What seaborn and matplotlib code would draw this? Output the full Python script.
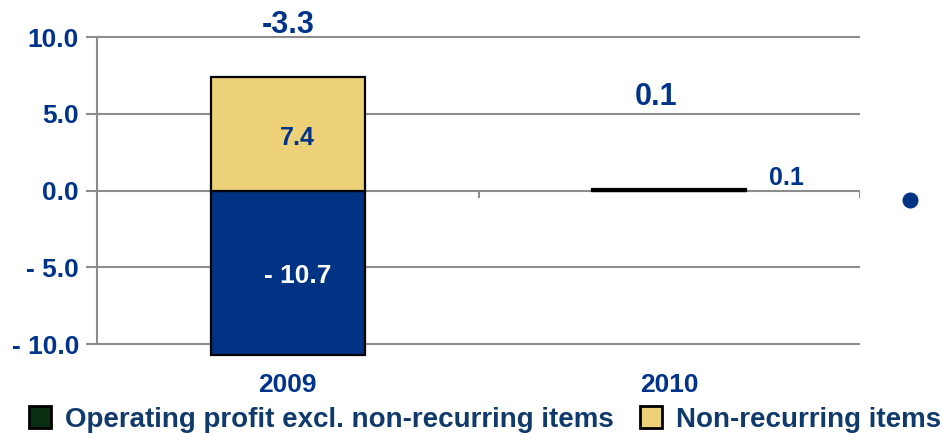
import matplotlib
matplotlib.use("Agg")
import matplotlib.pyplot as plt
import seaborn as sns
import pandas as pd
from matplotlib.patches import Patch

sns.set_theme(style="white")
plt.rcParams['font.family'] = 'Liberation Sans'
plt.rcParams['font.weight'] = 'bold'

years = ["2009", "2010"]
operating = [-10.7, 0.1]
non_recurring = [7.4, 0.0]
totals = [-3.3, 0.1]
op_labels = ["- 10.7", "0.1"]
nr_labels = ["7.4", ""]
total_labels = ["-3.3", "0.1"]
yticks = [10.0, 5.0, 0.0, -5.0, -10.0]
ytick_labels = ["10.0", "5.0", "0.0", "- 5.0", "- 10.0"]
series_names = ["Operating profit excl. non-recurring items", "Non-recurring items"]

NAVY = "#003383"
TAN = "#EDD178"
TXT = "#00338a"
LEG_TXT = "#0f3a6b"
GRID = "#8c8c8c"
FAM = "Liberation Sans"

df = pd.DataFrame({"year": years, "op": operating, "nr": non_recurring})

fig = plt.figure(figsize=(9.42, 4.33), dpi=100)
ax = fig.add_axes([0.103, 0.170, 0.810, 0.780])

sns.barplot(data=df, x="year", y="op", color=NAVY, width=0.404,
            edgecolor="black", linewidth=1.6, saturation=1, ax=ax, zorder=3)
sns.barplot(data=df, x="year", y="nr", color=TAN, width=0.404,
            edgecolor="black", linewidth=1.6, saturation=1, ax=ax, zorder=3)

ax.set_xlim(-0.5, 1.5)
ax.set_ylim(-11, 11)
ax.set_yticks(yticks)
ax.set_yticklabels(ytick_labels, family=FAM, fontweight="bold", fontsize=19, color=TXT)
ax.set_xticks([0, 1])
ax.set_xticklabels(years, family=FAM, fontweight="bold", fontsize=19, color=TXT)
ax.set_xlabel("")
ax.set_ylabel("")
ax.tick_params(axis="y", colors=GRID, length=8, width=1.5, direction="out", pad=5, left=True)
ax.tick_params(axis="y", labelcolor=TXT)
ax.tick_params(axis="x", length=0, pad=10, labelcolor=TXT)

for s in ["top", "right", "bottom"]:
    ax.spines[s].set_visible(False)
ax.spines["left"].set_color(GRID)
ax.spines["left"].set_linewidth(1.5)
ax.spines["left"].set_bounds(-10, 10)

for y in yticks:
    ax.axhline(y, color=GRID, lw=1.5, zorder=1)
# category boundary ticks on zero line
ax.vlines([0.5, 1.5], -0.5, 0, color=GRID, lw=1.5, zorder=1)

kw = dict(family=FAM, fontweight="bold")
ax.text(0.025, non_recurring[0] / 2 - 0.25, nr_labels[0], ha="center", va="center",
        fontsize=18, color=TXT, zorder=4, **kw)
ax.text(0.025, operating[0] / 2 - 0.2, op_labels[0], ha="center", va="center",
        fontsize=19, color="white", zorder=4, **kw)
ax.text(1.306, 0.81, op_labels[1], ha="center", va="center",
        fontsize=18, color=TXT, zorder=4, **kw)
ax.text(0, 10.75, total_labels[0], ha="center", va="center",
        fontsize=22, color=TXT, clip_on=False, **kw)
ax.text(0.965, 6.12, total_labels[1], ha="center", va="center",
        fontsize=22, color=TXT, **kw)

handles = [Patch(facecolor="#0a2e12", edgecolor="black", linewidth=2),
           Patch(facecolor=TAN, edgecolor="black", linewidth=2)]
leg = fig.legend(handles, series_names, loc="lower left", bbox_to_anchor=(0.019, -0.025),
                 ncol=2, frameon=False, handlelength=0.8, handleheight=0.8,
                 handletextpad=0.5, columnspacing=0.95, borderaxespad=0,
                 prop=dict(family=FAM, weight="bold", size=20))
for t in leg.get_texts():
    t.set_color(LEG_TXT)

ax.plot([0.966], [0.539], marker="o", ms=10.5, color=NAVY, transform=fig.transFigure,
        clip_on=False, linestyle="none")

fig.savefig("out.png", dpi=100)
